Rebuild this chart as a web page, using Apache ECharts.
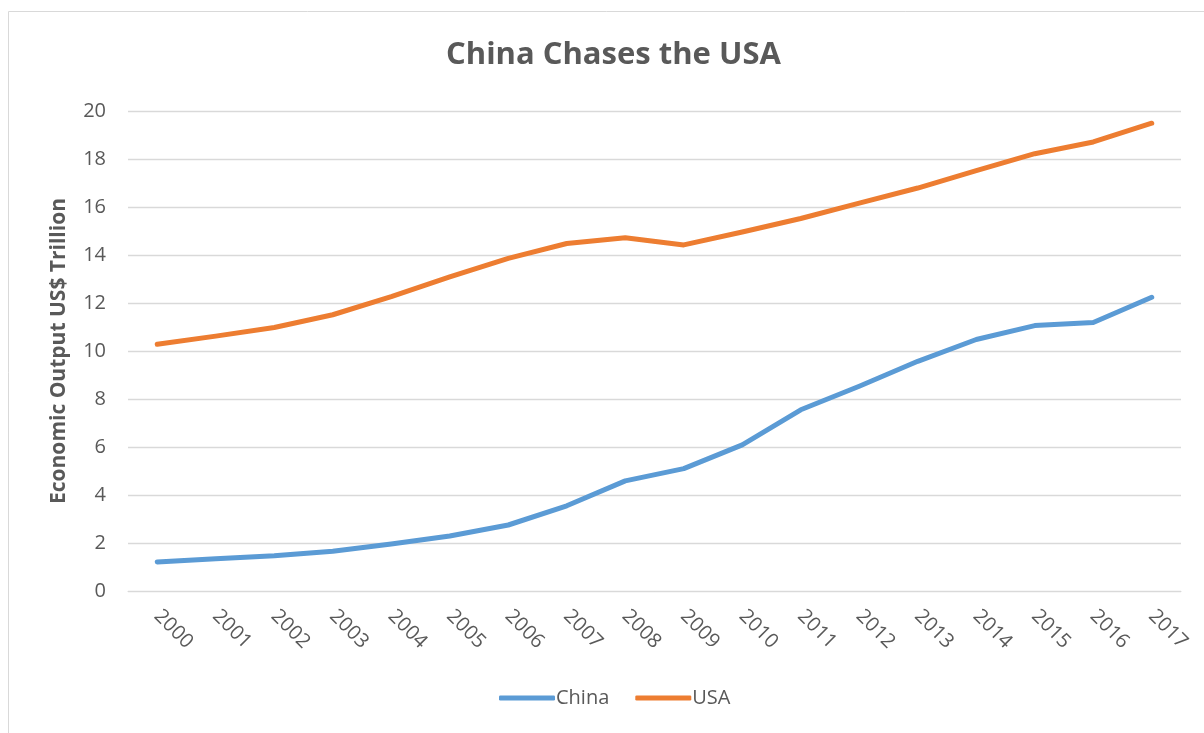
<!DOCTYPE html>
<html>
<head>
<meta charset="utf-8">
<script src="https://cdn.jsdelivr.net/npm/echarts@6/dist/echarts.min.js"></script>
<style>
  html, body { margin: 0; padding: 0; background: #fff; }
  #chart { width: 1204px; height: 733px; }
</style>
</head>
<body>
<div id="chart"></div>
<script>
// years on the x axis
var years = ['2000', '2001', '2002', '2003', '2004', '2005', '2006', '2007', '2008',
             '2009', '2010', '2011', '2012', '2013', '2014', '2015', '2016', '2017'];
// economic output, US$ trillion
var chinaValues = [1.21, 1.34, 1.47, 1.66, 1.96, 2.29, 2.75, 3.55, 4.59,
                   5.10, 6.09, 7.55, 8.53, 9.57, 10.48, 11.06, 11.19, 12.24];
var usaValues = [10.28, 10.62, 10.98, 11.51, 12.27, 13.09, 13.86, 14.48, 14.72,
                 14.42, 14.96, 15.52, 16.16, 16.79, 17.52, 18.22, 18.71, 19.49];

var font = '"Open Sans", "Noto Sans", sans-serif';
var txt = '#595959';

var chart = echarts.init(document.getElementById('chart'));
chart.setOption({
  animation: false,
  graphic: [{
    type: 'rect',
    shape: { x: 8.5, y: 11.5, width: 1220, height: 760 },
    style: { fill: 'none', stroke: '#d9d9d9', lineWidth: 1 },
    silent: true
  }],
  title: {
    text: 'China Chases the USA',
    left: 441,
    top: 35,
    textStyle: { fontFamily: font, fontSize: 31, fontWeight: 'bold', color: txt }
  },
  legend: {
    bottom: 20,
    left: 494,
    itemWidth: 56,
    itemHeight: 5,
    itemGap: 26,
    icon: 'roundRect',
    textStyle: { fontFamily: font, fontSize: 20, color: txt, padding: [0, 0, 0, -4] },
    data: ['China', 'USA']
  },
  grid: { left: 128, right: 23, top: 111, bottom: 142, containLabel: false },
  xAxis: {
    type: 'category',
    data: years,
    boundaryGap: true,
    axisLine: { show: true, lineStyle: { color: '#d9d9d9' } },
    axisTick: { show: false },
    axisLabel: {
      rotate: -45, interval: 0, margin: 22,
      fontFamily: font, fontSize: 20, color: txt
    }
  },
  yAxis: {
    type: 'value',
    min: 0, max: 20, interval: 2,
    name: 'Economic Output US$ Trillion',
    nameLocation: 'middle',
    nameGap: 58,
    nameTextStyle: { fontFamily: font, fontSize: 21, fontWeight: 'bold', color: txt },
    axisLine: { show: false },
    axisTick: { show: false },
    axisLabel: { fontFamily: font, fontSize: 20, color: txt, margin: 22 },
    splitLine: { lineStyle: { color: '#d9d9d9', width: 1.3 } }
  },
  series: [
    {
      name: 'China', type: 'line', data: chinaValues,
      showSymbol: false, symbol: 'none',
      itemStyle: { color: '#5b9bd5' },
      lineStyle: { color: '#5b9bd5', width: 5, cap: 'round', join: 'round' }
    },
    {
      name: 'USA', type: 'line', data: usaValues,
      showSymbol: false, symbol: 'none',
      itemStyle: { color: '#ed7d31' },
      lineStyle: { color: '#ed7d31', width: 5, cap: 'round', join: 'round' }
    }
  ]
});
</script>
</body>
</html>
